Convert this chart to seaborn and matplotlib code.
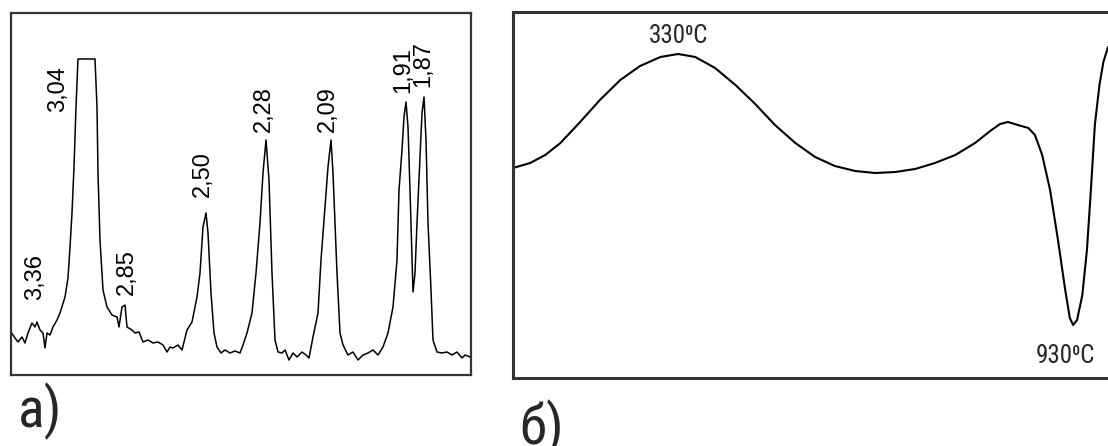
import matplotlib
matplotlib.use("Agg")
import matplotlib.pyplot as plt
from matplotlib import font_manager
import pandas as pd
import seaborn as sns

# a) X-ray pattern (arbitrary position / intensity units)
xrd_pos = [0, 4, 7, 11, 14, 17, 21, 24, 26, 29, 32, 34, 36, 39, 42, 46, 49, 54, 57, 59,
           61, 63, 65, 67, 84, 86, 87, 89, 92, 96, 101, 106, 108, 111, 114, 116, 121, 124,
           128, 132, 137, 142, 147, 152, 156, 159, 162, 167, 171, 176, 181, 186, 189, 192,
           195, 197, 200, 203, 206, 210, 214, 219, 224, 229, 232, 236, 241, 245, 249, 252,
           255, 258, 261, 264, 267, 271, 274, 278, 282, 286, 291, 295, 298, 302, 307, 310,
           314, 317, 320, 322, 326, 329, 332, 337, 342, 347, 352, 357, 362, 367, 372, 377,
           382, 386, 388, 391, 393, 395, 397, 399, 401, 402, 404, 406, 409, 411, 413, 415,
           417, 420, 422, 426, 431, 436, 441, 446, 451, 454, 459]
xrd_int = [43, 37, 33, 38, 32, 42, 52, 48, 53, 45, 42, 27, 42, 40, 48, 55, 62, 78, 97, 128,
           162, 208, 268, 316, 316, 268, 202, 135, 85, 68, 60, 58, 48, 68, 70, 48, 45, 42,
           43, 33, 35, 32, 33, 30, 23, 28, 27, 30, 25, 45, 53, 78, 102, 148,
           162, 142, 82, 42, 28, 22, 25, 22, 24, 22, 30, 42, 62, 102, 152, 202,
           235, 195, 102, 35, 23, 22, 25, 15, 22, 18, 23, 20, 17, 38, 62, 115,
           168, 208, 235, 202, 102, 42, 30, 20, 23, 15, 20, 22, 25, 20, 28, 42,
           68, 115, 185, 225, 258, 273, 248, 185, 118, 83, 102, 152, 218, 262, 278, 235,
           152, 85, 35, 23, 22, 23, 20, 23, 17, 20, 18]
xrd_labels = ["3,36", "3,04", "2,85", "2,50", "2,28", "2,09", "1,91", "1,87"]
xrd_label_x = [24, 47, 116, 192, 253, 317, 392, 412]
xrd_label_y = [75, 263, 80, 178, 243, 243, 282, 288]

# б) DTA curve: temperature (°C) vs signal (arbitrary units)
dta_temp = [79, 105, 128, 151, 181, 211, 242, 272, 303, 330, 356, 386, 417, 447, 477, 508,
            538, 568, 599, 629, 660, 690, 720, 751, 781, 804, 819, 831, 846, 862, 872, 883,
            895, 907, 918, 925, 930, 936, 944, 951, 957, 963, 970, 976, 983]
dta_sig = [210, 215, 223, 235, 256, 278, 298, 312, 321, 324, 321, 310, 293, 274, 253, 235,
           221, 212, 207, 205, 206, 209, 215, 223, 235, 247, 254, 256, 253, 250, 243, 223,
           188, 138, 88, 60, 53, 58, 83, 128, 188, 253, 293, 316, 331]
dta_labels = ["330⁰C", "930⁰C"]
dta_label_t = [330, 918]
dta_label_y = [330, 10]

sns.set_style("white")
plt.rcParams["font.family"] = ["Liberation Sans", "DejaVu Sans"]

# condensed face for the DTA labels and panel letters, if one is installed
names = {f.name for f in font_manager.fontManager.ttflist}
narrow, stretch = ["DejaVu Sans"], "condensed"
for cand in ["Liberation Sans Narrow", "Roboto Condensed", "Open Sans Condensed"]:
    if cand in names:
        narrow, stretch = [cand, "DejaVu Sans"], "normal"
        break

fig = plt.figure(figsize=(11.08, 4.46), dpi=100)
ax1 = fig.add_axes([11 / 1108, 71 / 446, 460 / 1108, 362 / 446])
ax2 = fig.add_axes([513 / 1108, 68 / 446, 595 / 1108, 366 / 446])

xrd = pd.DataFrame({"pos": xrd_pos, "intensity": xrd_int})
sns.lineplot(data=xrd, x="pos", y="intensity", sort=False, color="black",
             linewidth=1.1, ax=ax1)
ax1.set_xlim(0, 460)
ax1.set_ylim(0, 362)
for lab, x, y in zip(xrd_labels, xrd_label_x, xrd_label_y):
    ax1.text(x, y, lab, rotation=90, ha="center", va="bottom", fontsize=17,
             color="black")

dta = pd.DataFrame({"temp": dta_temp, "signal": dta_sig})
sns.lineplot(data=dta, x="temp", y="signal", sort=False, color="black",
             linewidth=1.5, ax=ax2)
ax2.set_xlim(79, 983)
ax2.set_ylim(0, 366)
for lab, t, y in zip(dta_labels, dta_label_t, dta_label_y):
    ax2.text(t, y, lab, ha="center", va="bottom", fontsize=18, family=narrow,
             fontstretch=stretch)

for ax, lw in ((ax1, 1.6), (ax2, 2.2)):
    ax.set_xticks([])
    ax.set_yticks([])
    ax.set_xlabel("")
    ax.set_ylabel("")
    for sp in ax.spines.values():
        sp.set_color("#333333")
        sp.set_linewidth(lw)
ax2.spines["right"].set_visible(False)

fig.text(18 / 1108, 19 / 446, "а)", fontsize=40, family=narrow,
         fontstretch=stretch, va="baseline")
fig.text(519 / 1108, 2 / 446, "б)", fontsize=40, family=narrow,
         fontstretch=stretch, va="baseline")

fig.savefig("out.png", dpi=100)
